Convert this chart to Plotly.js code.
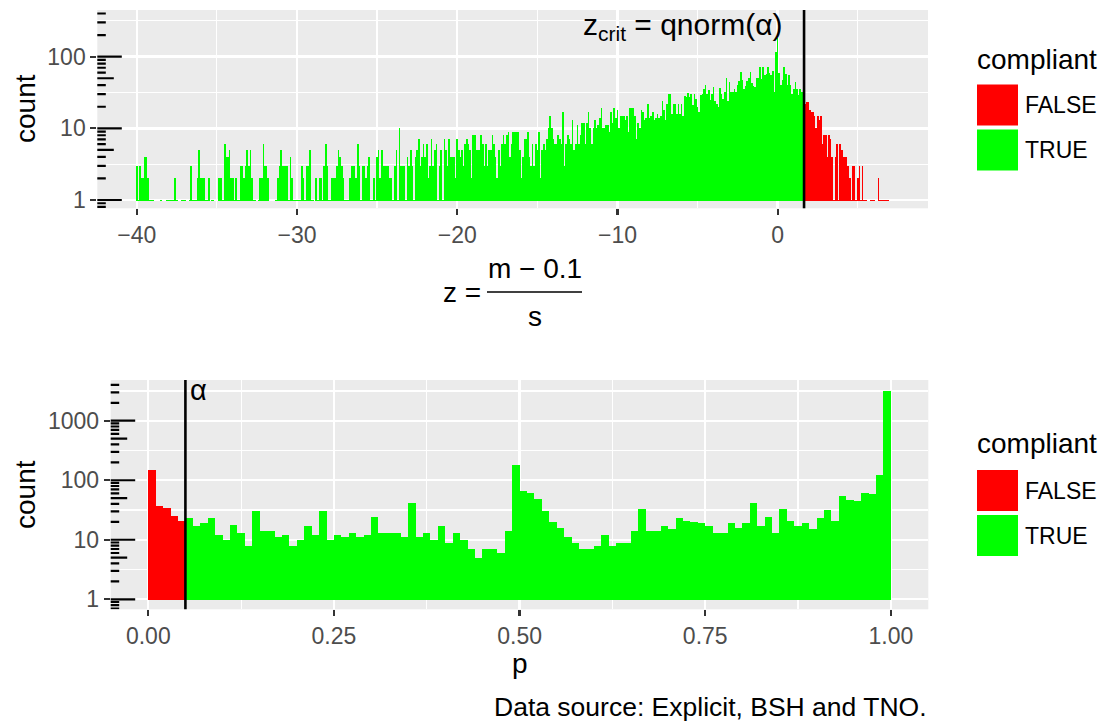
<!DOCTYPE html>
<html>
<head>
<meta charset="utf-8">
<script src="https://cdn.plot.ly/plotly-3.0.1.min.js"></script>
<style>
html,body{margin:0;padding:0;background:#ffffff;}
#chart{width:1107px;height:722px;}
</style>
</head>
<body>
<div id="chart"></div>
<script>
// ---------------- DATA ----------------
// Top panel: histogram of z = (m - 0.1)/s, bins of width 0.1 starting at -40.05
const zBinStart = -40.05;
const zBinWidth = 0.1;
const zCounts = [
  3,1,3,2,2,4,4,2,1,1, 1,0,0,0,0,1,0,0,0,1,
  1,1,1,1,2,1,0,0,1,1, 1,0,0,1,3,1,1,1,2,5,
  2,2,2,1,1,2,0,1,1,0, 0,2,2,2,1,6,4,4,5,2,
  2,1,2,1,1,3,3,2,3,5, 3,5,2,1,1,0,1,2,2,6,
  3,3,2,0,0,0,0,1,2,3, 5,3,3,3,3,1,4,2,1,1,
  1,1,1,3,2,1,3,3,5,1, 1,0,2,1,2,2,1,3,6,3,
  1,1,2,2,2,3,5,4,3,2, 1,1,1,2,3,3,3,2,6,3,
  1,3,3,2,3,4,1,1,2,1, 4,5,2,5,3,3,3,3,2,2,
  1,3,5,1,10,3,3,3,1,4, 3,5,3,1,4,5,7,3,4,6,
  4,6,2,3,7,3,5,6,1,3, 5,1,7,5,3,7,4,4,4,2,
  7,5,4,5,3,6,7,6,5,2, 8,8,5,5,5,8,6,3,6,3,
  5,5,8,6,4,2,5,3,6,8, 6,8,9,4,6,9,9,9,9,5,
  2,4,7,7,9,4,3,6,3,6, 5,9,2,5,6,5,7,10,15,10,
  7,6,6,8,7,6,17,3,6,8, 7,6,13,5,6,11,6,8,12,12,
  6,12,17,10,6,10,13,10,11,14, 19,10,10,11,11,9,17,12,19,14,
  18,10,15,15,15,13,15,9,19,19, 19,15,7,12,10,18,17,13,14,22,
  14,15,17,13,14,16,14,15,24,18, 13,22,30,30,16,22,22,16,22,16,
  22,15,28,27,31,27,30,21,30,26, 20,17,29,30,35,40,30,34,25,30,
  38,24,22,20,36,30,26,32,50,24, 44,32,32,35,32,40,46,62,47,35,
  39,46,50,62,43,39,38,50,50,72, 49,72,56,57,72,60,56,63,32,115,
  180,60,40,47,72,58,40,56,40,30, 35,44,35,29,35,32,25,22,23,23,
  18,17,17,15,10,15,13,15,6,8, 8,4,8,7,4,1,4,6,1,6,
  5,4,4,4,3,2,1,3,3,1, 2,3,1,3,1,1,0,0,1,1,
  1,0,0,2,1,1,1,1,1,1, 0
];
const zCrit = 1.645;

// Bottom panel: histogram of p, 100 bins of width 0.01 starting at 0
const pBinStart = 0;
const pBinWidth = 0.01;
const pCounts = [
  149,37,34,25,21,23,17,19,23,12,
  10,18,13,8,30,14,14,11,12,8,
  10,17,12,30,10,12,11,13,11,12,
  24,13,13,13,11,42,11,13,10,17,
  9,13,10,7,5,7,7,6,14,181,
  66,61,49,31,20,16,11,9,7,7,
  8,12,8,9,9,14,33,14,14,17,
  15,23,21,20,19,17,13,13,19,16,
  19,42,17,24,13,33,21,17,19,15,
  23,32,21,55,47,45,61,59,123,3170
];
const alpha = 0.05;

const complianceLevels = ['FALSE', 'TRUE'];
const complianceColors = ['#FF0000', '#00FF00'];

const zTickVals = [-40, -30, -20, -10, 0];
const pTickVals = [0, 0.25, 0.5, 0.75, 1];
const pTickText = ['0.00', '0.25', '0.50', '0.75', '1.00'];
const countTickTop = [1, 10, 100];
const countTickBottom = [1, 10, 100, 1000];
const captionText = 'Data source: Explicit, BSH and TNO.';

// ---------------- LAYOUT HELPERS ----------------
const W = 1107, H = 722;
const FONT = '"Liberation Sans", Arial, Helvetica, sans-serif';
const px = v => v / W;
const py = v => 1 - v / H;
const BASE = 0.97;

const topPanel = {x0: 97.3, x1: 928.0, y0: 10.0, y1: 208.3};
const botPanel = {x0: 110.7, x1: 928.3, y0: 380.0, y1: 609.3};

function centers(start, width, n) {
  const out = [];
  for (let i = 0; i < n; i++) out.push(start + width * (i + 0.5));
  return out;
}
const zCenters = centers(zBinStart, zBinWidth, zCounts.length);
const pCenters = centers(pBinStart, pBinWidth, pCounts.length);

function barTrace(cs, counts, keep, color, name, xa, ya, width) {
  const x = [], y = [], cd = [];
  cs.forEach((c, i) => {
    if (keep(c) && counts[i] > 0) { x.push(c); y.push(counts[i] - BASE); cd.push(counts[i]); }
  });
  return {type: 'bar', x: x, y: y, base: BASE, width: width, customdata: cd,
    marker: {color: color, line: {width: 0}}, name: name, xaxis: xa, yaxis: ya,
    showlegend: false, hoverinfo: 'skip'};
}

const traces = [
  barTrace(zCenters, zCounts, c => c < zCrit, complianceColors[1], complianceLevels[1], 'x', 'y', zBinWidth),
  barTrace(zCenters, zCounts, c => c > zCrit, complianceColors[0], complianceLevels[0], 'x', 'y', zBinWidth),
  barTrace(pCenters, pCounts, c => c > alpha, complianceColors[1], complianceLevels[1], 'x2', 'y2', pBinWidth),
  barTrace(pCenters, pCounts, c => c < alpha, complianceColors[0], complianceLevels[0], 'x2', 'y2', pBinWidth)
];

const tickFont = {family: FONT, size: 23, color: '#4D4D4D'};
function xAxis(panel, range, tickvals, ticktext, minorVals, anchor) {
  return {domain: [px(panel.x0), px(panel.x1)], anchor: anchor, range: range,
    tickmode: 'array', tickvals: tickvals, ticktext: ticktext,
    ticks: 'outside', ticklen: 6, tickwidth: 2.2, tickcolor: '#333333', tickfont: tickFont,
    showgrid: true, gridcolor: '#FFFFFF', gridwidth: 2.4,
    minor: {tickmode: 'array', tickvals: minorVals, showgrid: true, gridcolor: '#FFFFFF', gridwidth: 1.2, ticks: ''},
    zeroline: false, showline: false, fixedrange: true};
}
function yAxis(panel, range, tickvals, minorVals, anchor) {
  return {domain: [py(panel.y1), py(panel.y0)], anchor: anchor, type: 'log', range: range,
    tickmode: 'array', tickvals: tickvals, ticktext: tickvals.map(String),
    ticks: 'outside', ticklen: 6, tickwidth: 2.2, tickcolor: '#333333', tickfont: tickFont,
    showgrid: true, gridcolor: '#FFFFFF', gridwidth: 2.4,
    minor: {tickmode: 'array', tickvals: minorVals, showgrid: true, gridcolor: '#FFFFFF', gridwidth: 1.2, ticks: ''},
    zeroline: false, showline: false, fixedrange: true};
}

const shapes = [];
// log ticks (annotation_logticks style) on the left edge of each panel
function logTicks(xref, yref, panel, lo, hi) {
  const wpx = panel.x1 - panel.x0;
  for (let e = -1; e <= 4; e++) {
    for (let m = 1; m <= 9; m++) {
      const v = m * Math.pow(10, e);
      const lv = Math.log10(v);
      if (lv < lo || lv > hi) continue;
      const len = m === 1 ? 24.5 : (m === 5 ? 16.5 : 8.5);
      shapes.push({type: 'line', xref: xref + ' domain', yref: yref, x0: 0, x1: len / wpx, y0: v, y1: v,
        line: {color: '#000000', width: 2.2}, layer: 'above'});
    }
  }
}
const topYRange = [-0.116, 2.651];
const botYRange = [-0.168, 3.684];
logTicks('x', 'y', topPanel, topYRange[0], topYRange[1]);
logTicks('x2', 'y2', botPanel, botYRange[0], botYRange[1]);

// critical value lines
shapes.push({type: 'line', xref: 'x', yref: 'y domain', x0: zCrit, x1: zCrit, y0: 0, y1: 1, line: {color: '#000000', width: 2.6}});
shapes.push({type: 'line', xref: 'x2', yref: 'y2 domain', x0: alpha, x1: alpha, y0: 0, y1: 1, line: {color: '#000000', width: 2.6}});

// fraction bar of the top x-axis title
shapes.push({type: 'line', xref: 'paper', yref: 'paper', x0: px(487), x1: px(582), y0: py(292), y1: py(292), line: {color: '#000000', width: 1.4}});

// manual legends
function legendKeys(yTop) {
  complianceLevels.forEach((lvl, k) => {
    const y0 = yTop + k * 45;
    shapes.push({type: 'rect', xref: 'paper', yref: 'paper', x0: px(977), x1: px(1018), y0: py(y0), y1: py(y0 + 41),
      fillcolor: complianceColors[k], line: {width: 0}});
  });
}
legendKeys(84.5);
legendKeys(470);

const ann = [];
const titleFont = {family: FONT, size: 28, color: '#000000'};
function text(t, x, y, xanchor, yanchor, font, extra) {
  ann.push(Object.assign({text: t, xref: 'paper', yref: 'paper', x: px(x), y: py(y), xanchor: xanchor, yanchor: yanchor,
    showarrow: false, font: font}, extra || {}));
}
// y titles
text('count', 25, 109, 'center', 'middle', titleFont, {textangle: -90});
text('count', 25, 495, 'center', 'middle', titleFont, {textangle: -90});
// x titles
text('z =', 483, 292, 'right', 'middle', titleFont);
text('m − 0.1', 534.5, 268, 'center', 'middle', titleFont);
text('s', 534.5, 316, 'center', 'middle', titleFont);
text('p', 519.5, 663, 'center', 'middle', titleFont);
// panel annotations
text('z<sub>crit</sub> = qnorm(α)', 785, 27, 'right', 'middle', {family: FONT, size: 30, color: '#000000'});
text('α', 188, 390, 'left', 'middle', {family: FONT, size: 29, color: '#000000'});
// legends
const legLabelFont = {family: FONT, size: 23, color: '#000000'};
[[60, 84.5], [443, 470]].forEach(([ty, ky]) => {
  text('compliant', 975, ty, 'left', 'middle', titleFont);
  complianceLevels.forEach((lvl, k) => {
    text(lvl, 1023, ky + 20.5 + k * 45, 'left', 'middle', legLabelFont);
  });
});
// caption
text(captionText, 929, 707, 'right', 'middle', {family: FONT, size: 26.5, color: '#000000'});

const layout = {
  width: W, height: H,
  margin: {l: 0, r: 0, t: 0, b: 0},
  paper_bgcolor: '#FFFFFF', plot_bgcolor: '#EBEBEB',
  font: {family: FONT},
  barmode: 'overlay', bargap: 0,
  showlegend: false,
  xaxis: xAxis(topPanel, [-42.46, 9.38], zTickVals, zTickVals.map(v => v === 0 ? '0' : '−' + Math.abs(v)), [-35, -25, -15, -5, 5], 'y'),
  yaxis: yAxis(topPanel, topYRange, countTickTop, [Math.sqrt(10), Math.sqrt(1000), Math.sqrt(100000)], 'x'),
  xaxis2: xAxis(botPanel, [-0.0506, 1.0504], pTickVals, pTickText, [0.125, 0.375, 0.625, 0.875], 'y2'),
  yaxis2: yAxis(botPanel, botYRange, countTickBottom, [Math.sqrt(10), Math.sqrt(1000), Math.sqrt(100000), Math.sqrt(10000000)], 'x2'),
  shapes: shapes,
  annotations: ann
};

Plotly.newPlot('chart', traces, layout, {displayModeBar: false, staticPlot: true});
</script>
</body>
</html>
